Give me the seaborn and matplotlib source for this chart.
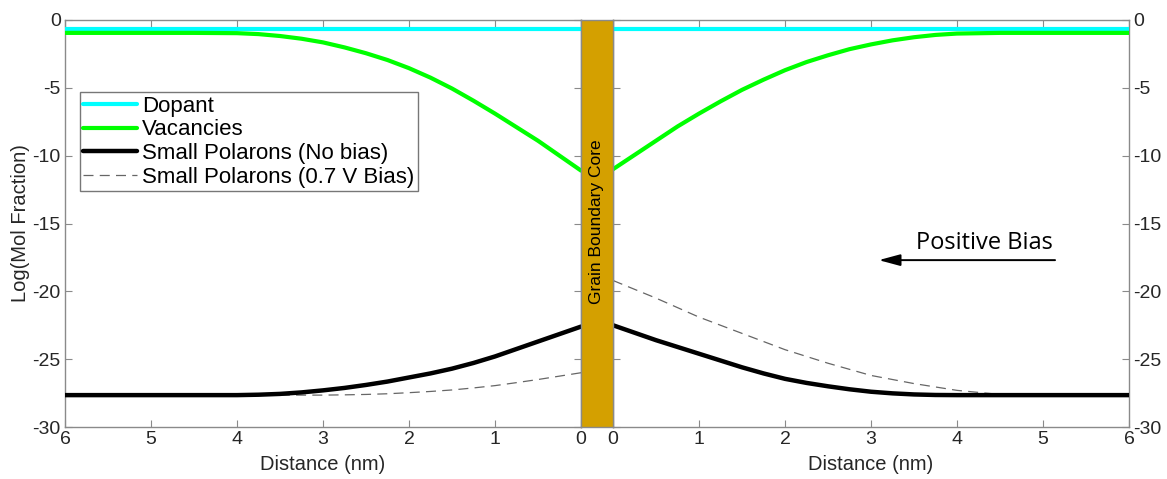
import numpy as np
import pandas as pd
import matplotlib
matplotlib.use("Agg")
import matplotlib.pyplot as plt
import seaborn as sns

sns.set_style("white")
plt.rcParams['font.family'] = ['Liberation Sans', 'DejaVu Sans']
plt.rcParams['axes.unicode_minus'] = False

# ---------------- data (distance from grain boundary core, nm) ----------------
dist_fine = [0, 0.25, 0.5, 0.75, 1, 1.25, 1.5, 1.75, 2, 2.25, 2.5, 2.75, 3, 3.25, 3.5, 3.75, 4, 4.5, 5, 6]

dopant_left = [-0.65] * len(dist_fine)
dopant_right = [-0.65] * len(dist_fine)

vac_left = [-11.1, -10.0, -8.9, -7.9, -6.9, -5.95, -5.05, -4.25, -3.55, -2.95, -2.45, -2.02,
            -1.65, -1.38, -1.18, -1.04, -0.97, -0.95, -0.95, -0.95]
vac_right = [-11.0, -9.95, -8.9, -7.85, -6.9, -6.0, -5.15, -4.4, -3.7, -3.1, -2.6, -2.15,
             -1.8, -1.5, -1.27, -1.1, -1.0, -0.95, -0.95, -0.95]

pol_left = [-22.6, -23.15, -23.7, -24.25, -24.8, -25.28, -25.7, -26.05, -26.35, -26.65, -26.9,
            -27.12, -27.3, -27.45, -27.56, -27.62, -27.65, -27.65, -27.65, -27.65]
pol_right = [-22.5, -23.05, -23.6, -24.1, -24.6, -25.1, -25.6, -26.05, -26.45, -26.75, -27.0,
             -27.22, -27.4, -27.52, -27.6, -27.64, -27.65, -27.65, -27.65, -27.65]

bias_left = [-26.0, -26.25, -26.5, -26.73, -26.95, -27.12, -27.27, -27.38, -27.47, -27.55, -27.6,
             -27.63, -27.65, -27.65, -27.65, -27.65, -27.65, -27.65, -27.65, -27.65]
bias_right = [-19.2, -19.85, -20.5, -21.2, -21.9, -22.5, -23.1, -23.7, -24.3, -24.8, -25.3,
              -25.75, -26.2, -26.5, -26.8, -27.05, -27.3, -27.6, -27.65, -27.65]

x_ticks = [0, 1, 2, 3, 4, 5, 6]
y_ticks = [-30, -25, -20, -15, -10, -5, 0]

labels = ["Dopant", "Vacancies", "Small Polarons (No bias)", "Small Polarons (0.7 V Bias)"]

# ---------------- figure layout ----------------
W, H = 1167, 479
fig = plt.figure(figsize=(W / 100, H / 100), dpi=100)

def fax(x0, x1, y0, y1):
    return [x0 / W, 1 - y1 / H, (x1 - x0) / W, (y1 - y0) / H]

axL = fig.add_axes(fax(65, 581, 20, 427))
axR = fig.add_axes(fax(613, 1129, 20, 427))
axG = fig.add_axes(fax(581, 613, 20, 427))

spine_col = "#8a8a8a"
txt_col = "#262626"
styles = [
    dict(color="#00FFFF", linewidth=3.0, zorder=3),
    dict(color="#00FF00", linewidth=3.0, zorder=3),
    dict(color="black", linewidth=3.2, zorder=4),
    dict(color="#666666", linewidth=0.9, linestyle=(0, (8, 5)), zorder=3),
]

def draw(ax, series, with_labels):
    for s, lab, st in zip(series, labels, styles):
        df = pd.DataFrame({"d": dist_fine, "v": s})
        sns.lineplot(data=df, x="d", y="v", ax=ax, label=lab if with_labels else None,
                     legend=False, **st)

draw(axL, [dopant_left, vac_left, pol_left, bias_left], True)
draw(axR, [dopant_right, vac_right, pol_right, bias_right], False)

for ax in (axL, axR):
    ax.set_ylim(-30, 0)
    ax.set_yticks(y_ticks)
    ax.set_xticks(x_ticks)
    ax.set_xlabel("Distance (nm)", fontsize=14.5, labelpad=5, color=txt_col)
    ax.set_ylabel("")
    for sp in ax.spines.values():
        sp.set_visible(True)
        sp.set_color(spine_col)
        sp.set_linewidth(1.0)
    ax.tick_params(direction="in", length=5, width=0.8, color=spine_col,
                   labelsize=14, labelcolor=txt_col, top=True, bottom=True,
                   left=True, right=True, pad=3)

axL.set_xlim(6, 0)
axR.set_xlim(0, 6)
axL.tick_params(labelleft=True, labelright=False)
axR.tick_params(labelleft=False, labelright=True)
axL.set_ylabel("Log(Mol Fraction)", fontsize=14.5, color=txt_col, labelpad=2)
axR.set_xticklabels([str(t) for t in x_ticks])
axL.set_xticklabels([str(t) for t in x_ticks])

# legend
h, l = axL.get_legend_handles_labels()
leg = axL.legend(h, l, loc="upper left", bbox_to_anchor=(0.029, 0.822), fontsize=16,
                 frameon=True, fancybox=False, framealpha=1, edgecolor="#777777",
                 handlelength=2.4, handletextpad=0.25, labelspacing=0.12,
                 borderpad=0.15, borderaxespad=0)
leg.get_frame().set_linewidth(1.0)
for t in leg.get_texts():
    t.set_color("black")

# grain boundary core bar
axG.set_facecolor("#D4A000")
axG.set_xticks([])
axG.set_yticks([])
for sp in axG.spines.values():
    sp.set_color(spine_col)
    sp.set_linewidth(1.0)
axG.text(0.5, 0.505, "Grain Boundary Core", rotation=90, ha="center", va="center",
         fontsize=12.5, color="black", transform=axG.transAxes)

# Positive bias arrow
axR.annotate("", xy=(3.09, -17.7), xytext=(5.14, -17.7),
             arrowprops=dict(arrowstyle="-|>,head_length=1.3,head_width=0.35",
                             color="black", lw=1.4, shrinkA=0, shrinkB=0))
axR.text(5.12, -17.3, "Positive Bias", ha="right", va="bottom", fontsize=17,
         color="black", family=["Open Sans", "DejaVu Sans"])

fig.savefig("out.png", dpi=100)
